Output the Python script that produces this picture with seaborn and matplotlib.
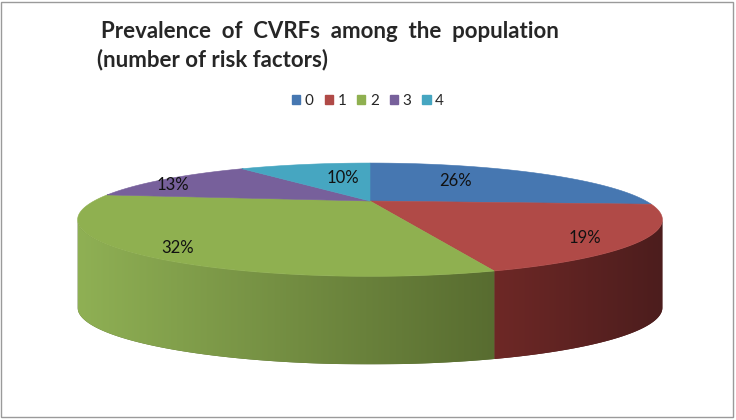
import numpy as np
import matplotlib
matplotlib.use("Agg")
import matplotlib.pyplot as plt
import matplotlib.patches as mpatches
import matplotlib.colors as mcolors
import seaborn as sns

# data
categories = ["0", "1", "2", "3", "4"]
shares = [26, 19, 32, 13, 10]
colors = ["#4677B1", "#B04A47", "#8FB050", "#77609B", "#46A6C1"]
# front wall shades (left end, right end)
side_colors = ["#2F5683", "#6E2826", "#8FB054", "#4F3E66", "#2C6C7E"]
side_colors_end = ["#2A4D75", "#4C1D1D", "#586C30", "#40334F", "#245A69"]
label_xy = [(455, 181), (585, 238), (178, 248), (173, 185), (343, 178)]

sns.set_style("white")
plt.rcParams["font.family"] = ["Lato", "DejaVu Sans"]

# 3d look: tilted disc seen in perspective (pixel units)
cx, cy = 370, 201
R, C, k = 276, 50.5, 0.33
height = 88


def proj(t_deg):
    t = np.radians(t_deg)
    x, y = np.cos(t), np.sin(t)
    s = 1.0 / (1.0 + k * y)
    return cx + R * x * s, cy - C * y * s


fig = plt.figure(figsize=(7.36, 4.2), dpi=100)
ax = fig.add_axes([0, 0, 1, 1])

ends = 90 - np.cumsum(shares) * 3.6
starts = np.concatenate([[90], ends[:-1]])

t_left = -180 + np.degrees(np.arcsin(k))
t_right = -np.degrees(np.arcsin(k))

# front wall, shaded left to right
for i in range(len(shares)):
    a0 = max(ends[i], t_left)
    a1 = min(starts[i], t_right)
    if a0 >= a1:
        continue
    tt = np.linspace(a0, a1, 200)
    xs, ys = proj(tt)
    verts = np.column_stack([np.concatenate([xs, xs[::-1]]),
                             np.concatenate([ys, ys[::-1] + height])])
    poly = mpatches.Polygon(verts, closed=True, facecolor=side_colors_end[i],
                            edgecolor="none", zorder=1)
    ax.add_patch(poly)
    cmap = mcolors.LinearSegmentedColormap.from_list(
        f"side{i}", [side_colors[i], side_colors_end[i]])
    grad = np.linspace(0, 1, 256).reshape(1, -1)
    im = ax.imshow(grad, cmap=cmap, aspect="auto", zorder=1.5,
                   extent=[xs.min(), xs.max(), ys.max() + height, ys.min()])
    im.set_clip_path(poly)

# top face
for i in range(len(shares)):
    tt = np.linspace(starts[i], ends[i], 200)
    xs, ys = proj(tt)
    xs = np.concatenate([[cx], xs])
    ys = np.concatenate([[cy], ys])
    ax.fill(xs, ys, color=colors[i], edgecolor=colors[i], linewidth=0.4, zorder=2)

for s, (x, y) in zip(shares, label_xy):
    ax.text(x, y, f"{s}%", fontsize=12, color="#111111", ha="center", va="center", zorder=3)

ax.set_xlim(0, 736)
ax.set_ylim(420, 0)
ax.axis("off")

handles = [mpatches.Patch(color=c) for c in colors]
fig.legend(handles, categories, loc="center", bbox_to_anchor=(368 / 736, 1 - 101 / 420),
           ncol=5, frameon=False, fontsize=11, handlelength=0.55, handleheight=0.55,
           handletextpad=0.3, columnspacing=0.7)

fig.text(101 / 736, 1 - 31 / 420,
         "Prevalence  of  CVRFs  among  the  population",
         fontsize=16, fontweight="bold", va="center", ha="left")
fig.text(97 / 736, 1 - 60 / 420, "(number of risk factors)",
         fontsize=16, fontweight="bold", va="center", ha="left")

fig.patches.append(mpatches.Rectangle((0.001, 0.006), 0.995, 0.99, transform=fig.transFigure,
                                      fill=False, edgecolor="#9a9a9a", linewidth=1))

fig.savefig("out.png", dpi=100)
